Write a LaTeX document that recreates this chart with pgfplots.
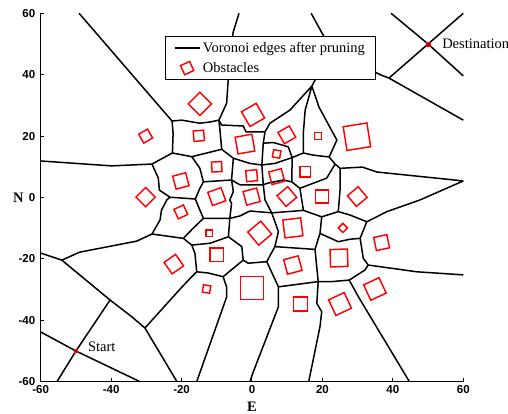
\documentclass[border=0pt]{standalone}
\usepackage{pgfplots}
\pgfplotsset{compat=1.18}
\usepackage{pgfplotstable}
\usepackage{fontspec}
\setmainfont{Liberation Serif}
\newfontfamily\ticksans{Liberation Sans}

\pgfplotstableread{
x y
-49.1 60
-22.7 24.9
nan nan
-3.7 60
-5.4 53.6
-6.8 37.6
-7.2 30.7
-9.4 25.2
nan nan
-22.7 24.9
-20.0 25.2
-14.8 24.2
-11.9 24.6
-9.4 25.2
nan nan
-9.4 25.2
-8.6 23.6
-2.5 23.3
-1.7 21.4
3.7 21.4
nan nan
3.7 21.4
5.1 24.2
10.8 28.5
17.0 36.3
nan nan
16.8 60
20.2 52.9
22.4 48.0
17.0 36.3
nan nan
22.4 48.0
36.6 39.9
38.9 38.9
50 50
60 60
nan nan
39.5 60
50 50
60 39.6
nan nan
38.9 38.9
60 25.2
nan nan
17.0 36.3
15.1 28.5
14.6 21.4
14.6 14.5
nan nan
17.0 36.3
19.0 29.5
24.1 18.7
21.9 13.2
23.6 10.9
25.0 9.5
31.3 9.9
35.5 8.3
60 5.4
nan nan
-22.7 24.9
-22.4 20.9
-22.6 14.5
nan nan
-60 11.9
-39.8 10.3
-28.4 10.9
-22.6 14.5
-17.1 13.3
-8.6 15.7
-9.1 22.0
-9.4 25.2
nan nan
-8.6 15.7
-5.3 12.8
-0.6 11.1
2.8 10.6
nan nan
3.7 21.4
3.2 17.7
2.8 10.6
nan nan
3.2 17.7
6.1 17.9
10.3 16.5
11.4 13.0
nan nan
2.8 10.6
6.5 11.1
11.4 13.0
14.6 14.5
17.4 13.8
21.9 13.2
nan nan
11.4 13.0
11.3 5.1
13.6 3.0
21.2 6.3
23.6 10.9
nan nan
11.3 5.1
8.9 5.7
4.2 4.6
3.2 4.1
nan nan
2.8 10.6
3.2 4.1
3.7 -0.8
5.6 -5.0
nan nan
-17.1 13.3
-14.8 9.5
-13.8 5.1
-5.8 5.7
nan nan
-5.3 12.8
-5.8 5.7
-3.4 4.1
3.2 4.1
nan nan
-5.8 5.7
-5.3 1.9
-6.3 -0.8
-5.8 -1.9
-6.3 -6.8
nan nan
-13.8 5.1
-14.8 3.0
-16.1 -0.5
-14.8 -4.1
-13.8 -6.8
nan nan
-28.4 10.9
-26.6 6.3
-26.3 2.4
-23.3 0.1
-16.1 -0.5
nan nan
-23.3 0.1
-24.2 -0.8
-25.7 -4.1
-26.1 -7.3
-28.4 -11.9
nan nan
-13.8 -6.8
-6.3 -6.8
-3.4 -6.0
-0.6 -4.4
5.6 -5.0
14.6 -4.2
19.8 -6.3
24.5 -4.6
27.8 -5.7
32.6 -7.9
38.3 -4.6
47.7 -0.8
60 5.4
nan nan
13.6 3.0
14.6 -4.2
nan nan
25.0 9.5
25.0 2.4
24.5 -4.6
nan nan
19.8 -6.3
19.3 -11.7
17.9 -16.9
18.8 -27.4
nan nan
19.3 -11.7
24.5 -14.4
27.8 -13.6
30.7 -13.3
nan nan
32.6 -7.9
30.7 -13.3
31.6 -19.8
33.0 -22.0
32.1 -23.6
27.6 -26.9
nan nan
33.0 -22.0
46.8 -24.2
60 -25.2
nan nan
27.6 -26.9
30.2 -32.3
44.7 -60
nan nan
18.8 -27.4
22.6 -27.4
27.6 -26.9
nan nan
18.8 -27.4
18.4 -34.5
19.8 -37.2
19.3 -42.1
16.1 -60
nan nan
5.6 -5.0
7.5 -11.1
6.5 -16.0
4.2 -20.9
7.5 -29.1
18.8 -27.4
nan nan
6.5 -16.0
17.9 -16.9
nan nan
7.5 -29.1
7.5 -35.6
0.2 -57.3
-0.6 -60
nan nan
4.2 -20.9
-1.1 -21.4
-2.5 -20.4
-2.9 -16.0
-6.7 -12.8
-6.3 -6.8
nan nan
-13.8 -6.8
-16.7 -10.0
-19.5 -13.3
-28.4 -11.9
nan nan
-19.5 -13.3
-17.1 -15.5
-11.9 -14.9
-6.7 -12.8
nan nan
-17.1 -15.5
-16.2 -18.2
-15.7 -24.2
-12.4 -24.6
-8.2 -25.8
-2.5 -20.4
nan nan
-8.2 -25.8
-7.2 -29.2
-7.2 -32.4
-15.7 -60
nan nan
-15.7 -24.2
-17.1 -25.8
-20.0 -29.3
-30.4 -42.5
-21.3 -60
nan nan
-28.4 -11.9
-32.7 -14.2
-48.9 -17.8
-54.0 -20.4
-60 -18.1
nan nan
-54.0 -20.4
-40.3 -33.4
-34.2 -38.8
-30.4 -42.5
nan nan
-40.3 -33.4
-50 -50
-55.4 -60
nan nan
-60 -43.8
-50 -50
-31.8 -60
}\edges

\newcommand\obs[4]{\addplot[red, line width=1.45pt, only marks, mark=square, mark size=#3pt, mark options={rotate=#4}, forget plot] coordinates {(#1,#2)};}

\begin{document}
\begin{tikzpicture}
\useasboundingbox (-40.7pt,-32.3pt) rectangle (467.3pt,381.7pt);
\begin{axis}[
  width=422.6pt, height=368.4pt, scale only axis,
  xmin=-60, xmax=60, ymin=-60, ymax=60,
  axis x line*=bottom, axis y line*=left,
  axis line style={-, line width=1.4pt},
  xtick={-60,-40,...,60}, ytick={-60,-40,...,60},
  tick align=inside, major tick length=3.5pt,
  tick style={line width=1pt, black},
  tick label style={font=\fontsize{11.5}{13}\ticksans\bfseries},
  /pgf/number format/assume math mode=true,
  yticklabel style={xshift=-2pt},
  xlabel={E}, ylabel={N},
  every axis x label/.style={at={(axis description cs:0.5,-0.068)}, anchor=center, font=\fontsize{14.5}{16}\selectfont\bfseries},
  every axis y label/.style={at={(axis description cs:-0.053,0.5)}, anchor=center, font=\fontsize{14.5}{16}\selectfont\bfseries},
  clip=false,
  legend style={at={(axis description cs:0.294,0.938)}, anchor=north west, draw=black, line width=0.9pt, fill=white,
    font=\fontsize{14.5}{16}\selectfont, inner xsep=8.5pt, inner ysep=3pt, row sep=3.5pt,
    nodes={inner sep=2.5pt}, cells={anchor=west}},
]
\addlegendimage{legend image code/.code={\draw[black, line width=1.5pt] (0pt,0pt) -- (25pt,0pt);}}
\addlegendentry{Voronoi edges after pruning}
\addlegendimage{legend image code/.code={\draw[red, line width=1.45pt, mark=square, mark size=5pt, mark options={rotate=25}] plot coordinates {(12.5pt,0pt)};}}
\addlegendentry{Obstacles}

\addplot[black, line width=1.5pt, line join=round, unbounded coords=jump, forget plot] table {\edges};

\obs{-14.8}{30.5}{8.2}{45}
\obs{0.3}{26.9}{8.5}{30}
\obs{-30.2}{20.0}{5.1}{30}
\obs{-15.1}{20.1}{5.2}{5}
\obs{-2.0}{17.4}{8.5}{10}
\obs{9.9}{20.4}{6.5}{30}
\obs{18.75}{20.0}{3.5}{0}
\obs{29.8}{19.8}{12}{9}
\obs{7.0}{14.2}{3.7}{-10}
\obs{-10.0}{10.0}{5}{3}
\obs{-0.1}{7.1}{5.5}{5}
\obs{15.1}{8.4}{5.2}{0}
\obs{-20.2}{5.4}{6.7}{15}
\obs{7.0}{6.8}{6.5}{15}
\obs{-30.2}{0.1}{6.8}{45}
\obs{-10.0}{0.3}{7}{20}
\obs{-0.1}{0.3}{7}{15}
\obs{9.9}{0.3}{7}{40}
\obs{19.8}{0.3}{6.5}{0}
\obs{29.9}{0.3}{7}{40}
\obs{-20.2}{-4.7}{5.2}{25}
\obs{11.6}{-9.9}{9}{7}
\obs{2.2}{-11.6}{8.5}{40}
\obs{-12.2}{-11.6}{3.2}{0}
\obs{25.8}{-9.9}{3.2}{45}
\obs{36.8}{-14.7}{6.7}{12}
\obs{-10.0}{-18.7}{6.7}{0}
\obs{11.6}{-22.0}{7.5}{15}
\obs{24.7}{-19.7}{8.7}{2}
\obs{-22.2}{-21.7}{7}{35}
\obs{-12.9}{-29.8}{3.7}{-10}
\obs{0}{-29.5}{11.5}{0}
\obs{13.8}{-34.7}{7}{0}
\obs{25.0}{-34.7}{8.6}{25}
\obs{34.9}{-29.8}{8.5}{25}

\addplot[only marks, mark=square*, mark size=1.8pt, draw=red, fill=red!55!black, line width=0.6pt, forget plot]
  coordinates {(-50,-50) (50,50)};
\node[anchor=west, inner sep=0pt, xshift=12pt, yshift=4.5pt, font=\fontsize{14.5}{16}\selectfont] at (axis cs:-50,-50) {Start};
\node[anchor=west, inner sep=0pt, xshift=14pt, font=\fontsize{14.5}{16}\selectfont] at (axis cs:50,50) {Destination};
\end{axis}
\end{tikzpicture}
\end{document}
